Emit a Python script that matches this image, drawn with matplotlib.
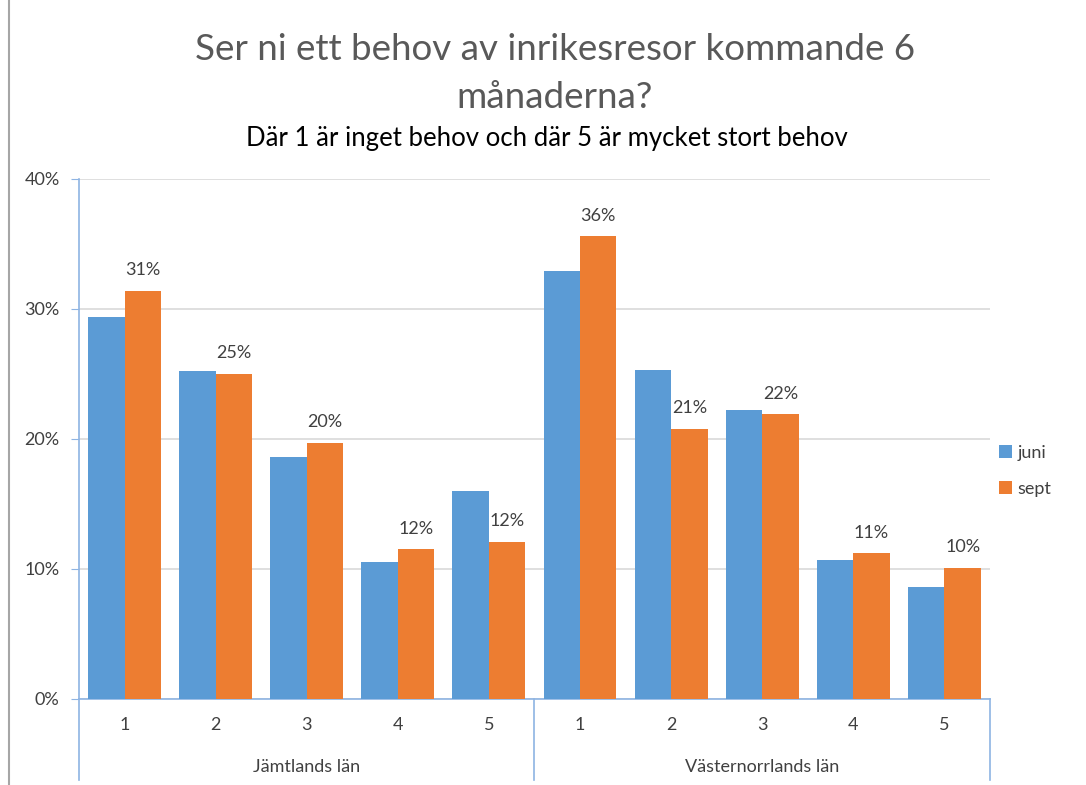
import matplotlib.pyplot as plt
import matplotlib.transforms as mtransforms
import numpy as np

# data (percent)
groups = ["Jämtlands län", "Västernorrlands län"]
levels = ["1", "2", "3", "4", "5"]
juni = [29.4, 25.2, 18.6, 10.5, 16.0, 32.9, 25.3, 22.2, 10.7, 8.6]
sept = [31.4, 25.0, 19.7, 11.5, 12.1, 35.6, 20.8, 21.9, 11.2, 10.1]
sept_labels = ["31%", "25%", "20%", "12%", "12%", "36%", "21%", "22%", "11%", "10%"]

blue = "#5B9BD5"
orange = "#ED7D31"
axis_col = "#8EB4E3"
txt = "#404040"

plt.rcParams['font.family'] = ['Lato', 'DejaVu Sans']

fig = plt.figure(figsize=(10.86, 7.85), dpi=100)
ax = fig.add_axes([0.0727, 0.1096, 0.8389, 0.6624])

x = np.arange(len(juni))
w = 0.4
ax.bar(x - w / 2, juni, w, color=blue, label="juni", zorder=3)
bars = ax.bar(x + w / 2, sept, w, color=orange, label="sept", zorder=3)
for b, lab in zip(bars, sept_labels):
    ax.annotate(lab, (b.get_x() + b.get_width() / 2, b.get_height()),
                xytext=(0, 9), textcoords="offset points",
                ha="center", va="bottom", fontsize=13, color=txt)

ax.set_xlim(-0.5, len(juni) - 0.5)
ax.set_ylim(0, 40)
ax.set_yticks([0, 10, 20, 30, 40])
ax.set_yticklabels(["0%", "10%", "20%", "30%", "40%"])
ax.yaxis.grid(True, color="#D9D9D9", linewidth=1.2, zorder=0)
ax.set_axisbelow(True)
ax.tick_params(axis="y", length=6, color=axis_col, labelsize=13,
               labelcolor=txt, pad=8)
ax.set_xticks(x)
ax.set_xticklabels(levels * 2)
ax.tick_params(axis="x", length=0, labelsize=13, labelcolor=txt, pad=13)
for s in ["top", "right"]:
    ax.spines[s].set_visible(False)
ax.spines["left"].set_color(axis_col)
ax.spines["bottom"].set_color(axis_col)
ax.spines["left"].set_linewidth(1.2)
ax.spines["bottom"].set_linewidth(1.2)

# multi-level category axis: group separators and group names
trans = mtransforms.blended_transform_factory(ax.transData, ax.transAxes)
for xs in [-0.5, 4.5, 9.5]:
    ax.plot([xs, xs], [0, -0.156], transform=trans, color=axis_col,
            linewidth=1.2, clip_on=False)
for i, g in enumerate(groups):
    ax.text(2 + 5 * i, -0.131, g, transform=trans, ha="center", va="center",
            fontsize=13, color=txt)

fig.text(0.511, 0.906, "Ser ni ett behov av inrikesresor kommande 6\nmånaderna?",
         ha="center", va="center", fontsize=26.5, color="#595959",
         linespacing=1.56)
fig.text(0.504, 0.824, "Där 1 är inget behov och där 5 är mycket stort behov",
         ha="center", va="center", fontsize=18.5, color="black")

fig.legend(loc="center left", bbox_to_anchor=(0.905, 0.40), frameon=False,
           fontsize=13, handlelength=0.7, handleheight=0.7,
           handletextpad=0.3, labelspacing=1.1, labelcolor=txt)

# chart border at the left edge
fig.add_artist(plt.Line2D([9 / 1086, 9 / 1086], [0, 1], color="#A6A6A6",
                          linewidth=1.5, transform=fig.transFigure))

fig.savefig("out.png", dpi=100)
